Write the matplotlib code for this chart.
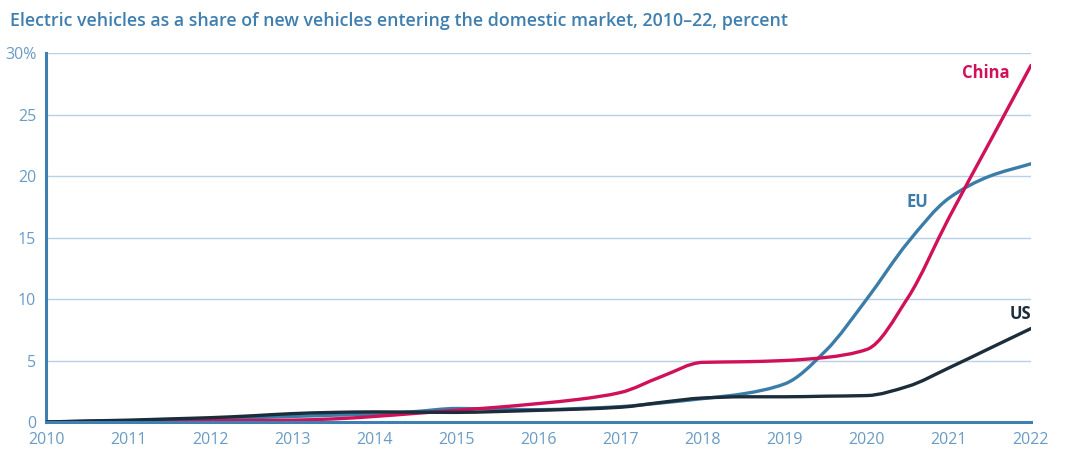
import numpy as np
import matplotlib
matplotlib.use("Agg")
import matplotlib.pyplot as plt
from matplotlib.path import Path
from matplotlib.patches import PathPatch

plt.rcParams['font.family'] = ['Open Sans', 'DejaVu Sans']

years = [2010, 2010.5, 2011, 2011.5, 2012, 2012.5, 2013, 2013.5, 2014, 2014.5,
         2015, 2015.5, 2016, 2016.5, 2017, 2017.5, 2018, 2018.5, 2019, 2019.5,
         2020, 2020.5, 2021, 2021.5, 2022]

china = [0.0, 0.05, 0.1, 0.1, 0.1, 0.12, 0.15, 0.25, 0.45, 0.7,
         0.95, 1.2, 1.5, 1.85, 2.4, 3.7, 4.85, 4.9, 5.0, 5.25,
         5.9, 10.1, 16.6, 22.8, 29.0]

eu = [0.0, 0.05, 0.1, 0.15, 0.25, 0.35, 0.45, 0.55, 0.65, 0.85,
      1.1, 1.05, 1.0, 1.1, 1.25, 1.55, 1.9, 2.3, 3.1, 5.8,
      10.0, 14.6, 18.2, 20.0, 21.0]

us = [0.0, 0.08, 0.15, 0.25, 0.35, 0.5, 0.68, 0.78, 0.82, 0.8,
      0.78, 0.85, 0.95, 1.05, 1.2, 1.6, 1.95, 2.05, 2.05, 2.1,
      2.15, 2.9, 4.4, 6.0, 7.6]

xticks = list(range(2010, 2023))
yticks = [0, 5, 10, 15, 20, 25, 30]
ylabels = ["0", "5", "10", "15", "20", "25", "30%"]

c_china = "#D1105A"
c_eu = "#3B7DA8"
c_us = "#1B2C3A"
c_axis = "#3F80B2"
c_tick = "#6A9BC4"
c_grid = "#B9D1E4"


def smooth_path(x, y):
    # monotone cubic (Fritsch-Carlson) as bezier segments
    x = np.asarray(x, float)
    y = np.asarray(y, float)
    h = np.diff(x)
    d = np.diff(y) / h
    m = np.zeros(len(x))
    m[0] = d[0]
    m[-1] = d[-1]
    for i in range(1, len(x) - 1):
        if d[i - 1] * d[i] <= 0:
            m[i] = 0
        else:
            w1 = 2 * h[i] + h[i - 1]
            w2 = h[i] + 2 * h[i - 1]
            m[i] = (w1 + w2) / (w1 / d[i - 1] + w2 / d[i])
    verts = [(x[0], y[0])]
    codes = [Path.MOVETO]
    for i in range(len(x) - 1):
        verts += [(x[i] + h[i] / 3, y[i] + m[i] * h[i] / 3),
                  (x[i + 1] - h[i] / 3, y[i + 1] - m[i + 1] * h[i] / 3),
                  (x[i + 1], y[i + 1])]
        codes += [Path.CURVE4] * 3
    return Path(verts, codes)


fig = plt.figure(figsize=(10.8, 4.62), dpi=100)
ax = fig.add_axes([0.0426, 0.0866, 0.912, 0.7984])

for v in yticks[1:]:
    ax.axhline(v, color=c_grid, lw=1.0, zorder=1)

for vals, col, z in [(eu, c_eu, 3), (china, c_china, 4), (us, c_us, 5)]:
    ax.add_patch(PathPatch(smooth_path(years, vals), fill=False, edgecolor=col,
                           lw=2.4, capstyle='round', joinstyle='round', zorder=z))

ax.set_xlim(2010, 2022)
ax.set_ylim(0, 30)
ax.set_xticks(xticks)
ax.set_xticklabels([str(y) for y in xticks])
ax.set_yticks(yticks)
ax.set_yticklabels(ylabels)
ax.tick_params(axis='both', length=0, colors=c_tick, labelsize=11.5)
ax.tick_params(axis='x', pad=7)
ax.tick_params(axis='y', pad=7)

for s in ['top', 'right']:
    ax.spines[s].set_visible(False)
ax.spines['left'].set_color(c_axis)
ax.spines['left'].set_linewidth(2.2)
ax.spines['bottom'].set_color(c_axis)
ax.spines['bottom'].set_linewidth(2.2)
ax.spines['bottom'].set_zorder(6)

ax.text(2021.45, 28.4, "China", color=c_china, fontsize=12, fontweight='bold', ha='center', va='center')
ax.text(2020.62, 17.9, "EU", color=c_eu, fontsize=12, fontweight='bold', ha='center', va='center')
ax.text(2021.87, 8.8, "US", color=c_us, fontsize=12, fontweight='bold', ha='center', va='center')

fig.text(0.009, 0.955, "Electric vehicles as a share of new vehicles entering the domestic market, 2010\u201322, percent",
         color="#3F7FAF", fontsize=12.8, fontweight='semibold', ha='left', va='center')

fig.savefig("out.png", dpi=100)
